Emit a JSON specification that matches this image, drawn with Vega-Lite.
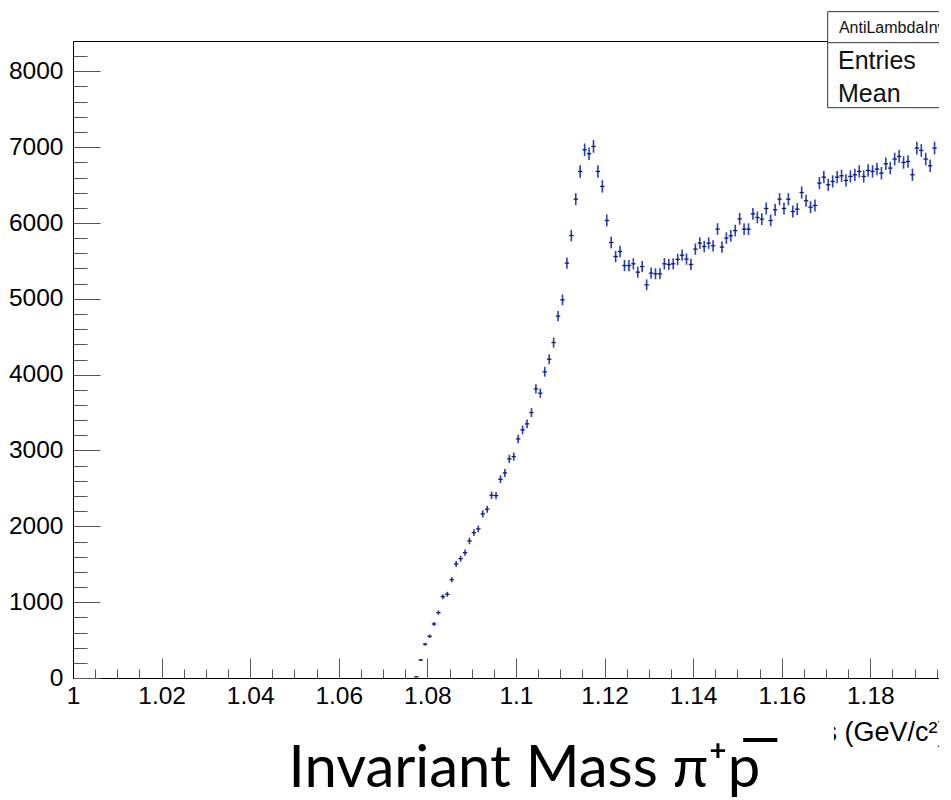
{
  "$schema": "https://vega.github.io/schema/vega-lite/v6.json",
  "width": 866,
  "height": 637,
  "autosize": {"type": "none"},
  "padding": {"left": 73, "top": 41, "right": 0, "bottom": 122},
  "background": "white",
  "config": {"view": {"stroke": null}},
  "data": {
    "values": [
      {"x": 1.0775, "y": 15, "e": 4},
      {"x": 1.0785, "y": 237, "e": 15},
      {"x": 1.0795, "y": 445, "e": 21},
      {"x": 1.0805, "y": 550, "e": 23},
      {"x": 1.0815, "y": 712, "e": 27},
      {"x": 1.0825, "y": 862, "e": 29},
      {"x": 1.0835, "y": 1073, "e": 33},
      {"x": 1.0845, "y": 1104, "e": 33},
      {"x": 1.0855, "y": 1297, "e": 36},
      {"x": 1.0865, "y": 1504, "e": 39},
      {"x": 1.0875, "y": 1574, "e": 40},
      {"x": 1.0885, "y": 1653, "e": 41},
      {"x": 1.0895, "y": 1807, "e": 43},
      {"x": 1.0905, "y": 1917, "e": 44},
      {"x": 1.0915, "y": 1966, "e": 44},
      {"x": 1.0925, "y": 2164, "e": 47},
      {"x": 1.0935, "y": 2226, "e": 47},
      {"x": 1.0945, "y": 2410, "e": 49},
      {"x": 1.0955, "y": 2405, "e": 49},
      {"x": 1.0965, "y": 2621, "e": 51},
      {"x": 1.0975, "y": 2704, "e": 52},
      {"x": 1.0985, "y": 2889, "e": 54},
      {"x": 1.0995, "y": 2920, "e": 54},
      {"x": 1.1005, "y": 3153, "e": 56},
      {"x": 1.1015, "y": 3272, "e": 57},
      {"x": 1.1025, "y": 3351, "e": 58},
      {"x": 1.1035, "y": 3500, "e": 59},
      {"x": 1.1045, "y": 3813, "e": 62},
      {"x": 1.1055, "y": 3756, "e": 61},
      {"x": 1.1065, "y": 4037, "e": 64},
      {"x": 1.1075, "y": 4204, "e": 65},
      {"x": 1.1085, "y": 4424, "e": 67},
      {"x": 1.1095, "y": 4772, "e": 69},
      {"x": 1.1105, "y": 4987, "e": 71},
      {"x": 1.1115, "y": 5471, "e": 74},
      {"x": 1.1125, "y": 5835, "e": 76},
      {"x": 1.1135, "y": 6315, "e": 79},
      {"x": 1.1145, "y": 6680, "e": 82},
      {"x": 1.1155, "y": 6966, "e": 83},
      {"x": 1.1165, "y": 6913, "e": 83},
      {"x": 1.1175, "y": 7010, "e": 84},
      {"x": 1.1185, "y": 6680, "e": 82},
      {"x": 1.1195, "y": 6482, "e": 81},
      {"x": 1.1205, "y": 6033, "e": 78},
      {"x": 1.1215, "y": 5743, "e": 76},
      {"x": 1.1225, "y": 5558, "e": 75},
      {"x": 1.1235, "y": 5624, "e": 75},
      {"x": 1.1245, "y": 5439, "e": 74},
      {"x": 1.1255, "y": 5439, "e": 74},
      {"x": 1.1265, "y": 5462, "e": 74},
      {"x": 1.1275, "y": 5352, "e": 73},
      {"x": 1.1285, "y": 5426, "e": 74},
      {"x": 1.1295, "y": 5185, "e": 72},
      {"x": 1.1305, "y": 5339, "e": 73},
      {"x": 1.1315, "y": 5330, "e": 73},
      {"x": 1.1325, "y": 5330, "e": 73},
      {"x": 1.1335, "y": 5462, "e": 74},
      {"x": 1.1345, "y": 5453, "e": 74},
      {"x": 1.1355, "y": 5462, "e": 74},
      {"x": 1.1365, "y": 5520, "e": 74},
      {"x": 1.1375, "y": 5576, "e": 75},
      {"x": 1.1385, "y": 5524, "e": 74},
      {"x": 1.1395, "y": 5453, "e": 74},
      {"x": 1.1405, "y": 5655, "e": 75},
      {"x": 1.1415, "y": 5735, "e": 76},
      {"x": 1.1425, "y": 5690, "e": 75},
      {"x": 1.1435, "y": 5735, "e": 76},
      {"x": 1.1445, "y": 5699, "e": 75},
      {"x": 1.1455, "y": 5920, "e": 77},
      {"x": 1.1465, "y": 5682, "e": 75},
      {"x": 1.1475, "y": 5801, "e": 76},
      {"x": 1.1485, "y": 5831, "e": 76},
      {"x": 1.1495, "y": 5900, "e": 77},
      {"x": 1.1505, "y": 6055, "e": 78},
      {"x": 1.1515, "y": 5919, "e": 77},
      {"x": 1.1525, "y": 5919, "e": 77},
      {"x": 1.1535, "y": 6121, "e": 78},
      {"x": 1.1545, "y": 6073, "e": 78},
      {"x": 1.1555, "y": 6051, "e": 78},
      {"x": 1.1565, "y": 6191, "e": 79},
      {"x": 1.1575, "y": 6033, "e": 78},
      {"x": 1.1585, "y": 6174, "e": 79},
      {"x": 1.1595, "y": 6315, "e": 79},
      {"x": 1.1605, "y": 6191, "e": 79},
      {"x": 1.1615, "y": 6315, "e": 79},
      {"x": 1.1625, "y": 6152, "e": 78},
      {"x": 1.1635, "y": 6183, "e": 79},
      {"x": 1.1645, "y": 6402, "e": 80},
      {"x": 1.1655, "y": 6293, "e": 79},
      {"x": 1.1665, "y": 6209, "e": 79},
      {"x": 1.1675, "y": 6231, "e": 79},
      {"x": 1.1685, "y": 6526, "e": 81},
      {"x": 1.1695, "y": 6605, "e": 81},
      {"x": 1.1705, "y": 6504, "e": 81},
      {"x": 1.1715, "y": 6548, "e": 81},
      {"x": 1.1725, "y": 6605, "e": 81},
      {"x": 1.1735, "y": 6623, "e": 81},
      {"x": 1.1745, "y": 6561, "e": 81},
      {"x": 1.1755, "y": 6614, "e": 81},
      {"x": 1.1765, "y": 6636, "e": 81},
      {"x": 1.1775, "y": 6680, "e": 82},
      {"x": 1.1785, "y": 6614, "e": 81},
      {"x": 1.1795, "y": 6693, "e": 82},
      {"x": 1.1805, "y": 6680, "e": 82},
      {"x": 1.1815, "y": 6711, "e": 82},
      {"x": 1.1825, "y": 6658, "e": 82},
      {"x": 1.1835, "y": 6781, "e": 82},
      {"x": 1.1845, "y": 6724, "e": 82},
      {"x": 1.1855, "y": 6843, "e": 83},
      {"x": 1.1865, "y": 6878, "e": 83},
      {"x": 1.1875, "y": 6798, "e": 82},
      {"x": 1.1885, "y": 6811, "e": 83},
      {"x": 1.1895, "y": 6636, "e": 81},
      {"x": 1.1905, "y": 6988, "e": 84},
      {"x": 1.1915, "y": 6957, "e": 83},
      {"x": 1.1925, "y": 6843, "e": 83},
      {"x": 1.1935, "y": 6755, "e": 82},
      {"x": 1.1945, "y": 6988, "e": 84}
    ]
  },
  "resolve": {"axis": {"x": "independent", "y": "independent"}},
  "layer": [
    {
      "mark": {"type": "errorbar", "ticks": false, "color": "#2240c0", "thickness": 1.6},
      "encoding": {
        "x": {
          "field": "x", "type": "quantitative",
          "scale": {"domain": [1, 1.1955], "nice": false, "zero": false},
          "axis": {
            "orient": "bottom",
            "values": [1, 1.02, 1.04, 1.06, 1.08, 1.1, 1.12, 1.14, 1.16, 1.18],
            "format": "~g",
            "grid": false,
            "tickSize": -20, "tickColor": "#555", "tickWidth": 1,
            "domainColor": "#000", "domainWidth": 1,
            "labelPadding": 26, "labelFont": "Liberation Sans", "labelFontSize": 24.5,
            "labelColor": "#000", "labelFlush": false, "labelOverlap": false,
            "title": "Mass (GeV/c²)",
            "titleFont": "Liberation Sans", "titleFontSize": 27, "titleFontWeight": "normal",
            "titleColor": "#000", "titleAnchor": "end", "titleAlign": "right",
            "titleX": 873, "titleY": 62, "titleBaseline": "alphabetic"
          }
        },
        "y": {
          "field": "y", "type": "quantitative",
          "scale": {"domain": [0, 8400], "nice": false, "zero": true},
          "axis": {
            "orient": "left",
            "values": [0, 1000, 2000, 3000, 4000, 5000, 6000, 7000, 8000],
            "format": "d",
            "grid": false,
            "tickSize": -27, "tickColor": "#555", "tickWidth": 1,
            "domainColor": "#000", "domainWidth": 1,
            "labelPadding": 37, "labelFont": "Liberation Sans", "labelFontSize": 24.5,
            "labelColor": "#000", "labelFlush": false, "labelOverlap": false,
            "title": null
          }
        },
        "yError": {"field": "e"}
      }
    },
    {
      "mark": {"type": "tick", "orient": "horizontal", "size": 4.4, "thickness": 1.3, "color": "#1c1c50", "opacity": 1},
      "encoding": {
        "x": {
          "field": "x", "type": "quantitative",
          "axis": {
            "orient": "bottom",
            "values": [1.005, 1.01, 1.015, 1.025, 1.03, 1.035, 1.045, 1.05, 1.055, 1.065, 1.07, 1.075, 1.085, 1.09, 1.095, 1.105, 1.11, 1.115, 1.125, 1.13, 1.135, 1.145, 1.15, 1.155, 1.165, 1.17, 1.175, 1.185, 1.19, 1.195],
            "grid": false, "labels": false, "domain": false,
            "tickSize": -9, "tickColor": "#555", "tickWidth": 1,
            "title": null
          }
        },
        "y": {
          "field": "y", "type": "quantitative",
          "axis": {
            "orient": "left",
            "values": [200, 400, 600, 800, 1200, 1400, 1600, 1800, 2200, 2400, 2600, 2800, 3200, 3400, 3600, 3800, 4200, 4400, 4600, 4800, 5200, 5400, 5600, 5800, 6200, 6400, 6600, 6800, 7200, 7400, 7600, 7800, 8200],
            "grid": false, "labels": false, "domain": false,
            "tickSize": -14, "tickColor": "#555", "tickWidth": 1,
            "title": null
          }
        }
      }
    },
    {
      "data": {"values": [{}]},
      "mark": {"type": "rect", "fill": "white", "stroke": "#333", "strokeWidth": 1, "clip": false},
      "encoding": {
        "x": {
          "datum": 1.17037, "type": "quantitative",
          "axis": {
            "orient": "top", "ticks": false, "labels": false, "grid": false,
            "domain": true, "domainColor": "#000", "domainWidth": 1, "title": null
          }
        },
        "x2": {"datum": 1.21},
        "y": {"datum": 8787, "type": "quantitative", "axis": null},
        "y2": {"datum": 7521}
      }
    },
    {
      "data": {"values": [{}]},
      "mark": {"type": "rule", "stroke": "#333", "strokeWidth": 1, "clip": false},
      "encoding": {
        "x": {"datum": 1.17037, "type": "quantitative", "axis": null},
        "x2": {"datum": 1.21},
        "y": {"datum": 8378, "type": "quantitative", "axis": null}
      }
    },
    {
      "data": {"values": [{}]},
      "mark": {"type": "text", "font": "Liberation Sans", "fontSize": 16, "align": "left", "baseline": "alphabetic", "color": "#111", "clip": false},
      "encoding": {
        "x": {"datum": 1.1729, "type": "quantitative", "axis": null},
        "y": {"datum": 8500, "type": "quantitative", "axis": null},
        "text": {"value": "AntiLambdaInvMass"}
      }
    },
    {
      "data": {"values": [{}]},
      "mark": {"type": "text", "font": "Liberation Sans", "fontSize": 25, "align": "left", "baseline": "alphabetic", "color": "#111", "clip": false},
      "encoding": {
        "x": {"datum": 1.1727, "type": "quantitative", "axis": null},
        "y": {"datum": 8030, "type": "quantitative", "axis": null},
        "text": {"value": "Entries"}
      }
    },
    {
      "data": {"values": [{}]},
      "mark": {"type": "text", "font": "Liberation Sans", "fontSize": 25, "align": "left", "baseline": "alphabetic", "color": "#111", "clip": false},
      "encoding": {
        "x": {"datum": 1.1727, "type": "quantitative", "axis": null},
        "y": {"datum": 7600, "type": "quantitative", "axis": null},
        "text": {"value": "Mean"}
      }
    },
    {
      "data": {"values": [{}]},
      "mark": {"type": "rect", "fill": "white", "stroke": null, "clip": false},
      "encoding": {
        "x": {"datum": 1.0, "type": "quantitative", "axis": null},
        "x2": {"datum": 1.1718},
        "y": {"datum": -500, "type": "quantitative", "axis": null},
        "y2": {"datum": -1000}
      }
    },
    {
      "data": {"values": [{}]},
      "mark": {"type": "text", "font": "Lato", "fontSize": 58, "align": "center", "baseline": "alphabetic", "color": "#000", "clip": false},
      "encoding": {
        "x": {"datum": 1.1019, "type": "quantitative", "axis": null},
        "y": {"datum": -1437, "type": "quantitative", "axis": null},
        "text": {"value": "Invariant Mass π⁺p̅"}
      }
    }
  ]
}
